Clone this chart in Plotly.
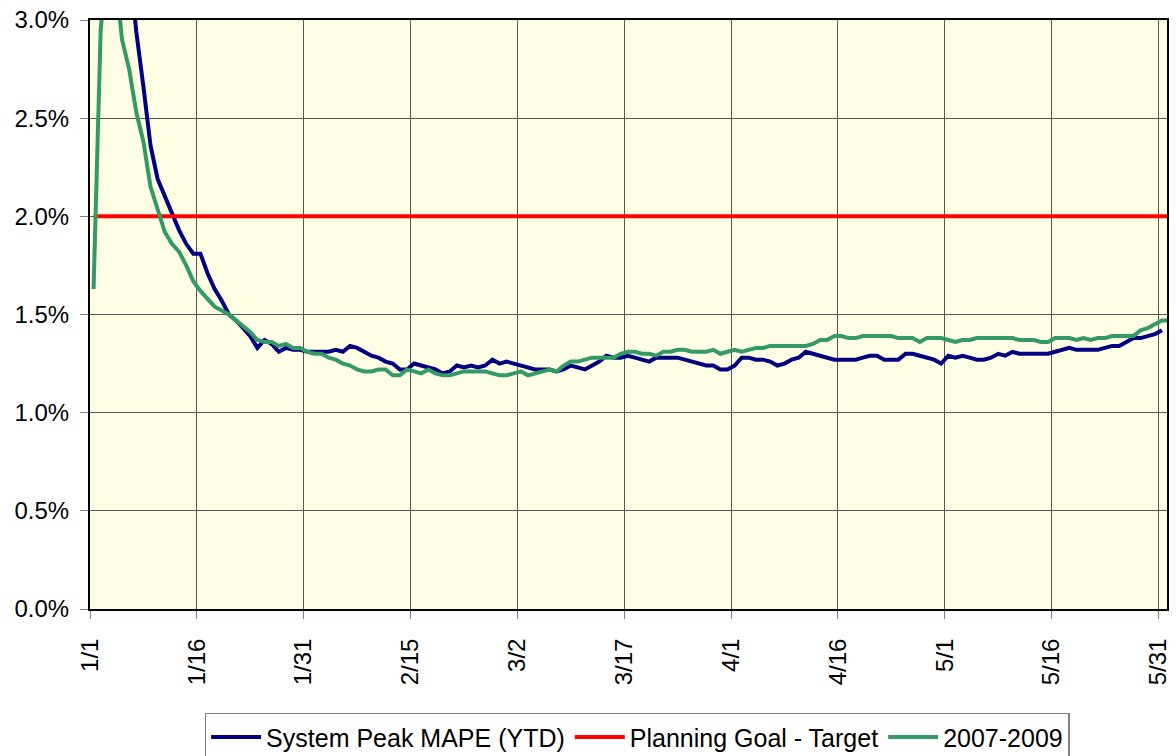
import pandas as pd
import plotly.graph_objects as go

# Daily readings, Jan 1 through Jun 1 (values in percent)
day_count = 152
days = pd.date_range("2010-01-01 12:00", periods=day_count, freq="D")

# System Peak MAPE, year to date (first days sit far above the 3% ceiling)
system_peak_mape = [None, None, None, None, None,
    3.30, 2.94, 2.66, 2.36, 2.19, 2.10, 2.01, 1.93, 1.86, 1.81,
    1.81, 1.71, 1.63, 1.57, 1.50, 1.47, 1.43, 1.39, 1.33, 1.37,
    1.35, 1.31, 1.33, 1.32, 1.32, 1.31, 1.31, 1.31, 1.31, 1.32,
    1.31, 1.34, 1.33, 1.31, 1.29, 1.28, 1.26, 1.25, 1.22, 1.22,
    1.25, 1.24, 1.23, 1.22, 1.20, 1.21, 1.24, 1.23, 1.24, 1.23,
    1.24, 1.27, 1.25, 1.26, 1.25, 1.24, 1.23, 1.22, 1.22, 1.22,
    1.21, 1.22, 1.24, 1.23, 1.22, 1.24, 1.26, 1.29, 1.28, 1.28,
    1.29, 1.28, 1.27, 1.26, 1.28, 1.28, 1.28, 1.28, 1.27, 1.26,
    1.25, 1.24, 1.24, 1.22, 1.22, 1.24, 1.28, 1.28, 1.27, 1.27,
    1.26, 1.24, 1.25, 1.27, 1.28, 1.31, 1.30, 1.29, 1.28, 1.27,
    1.27, 1.27, 1.27, 1.28, 1.29, 1.29, 1.27, 1.27, 1.27, 1.30,
    1.30, 1.29, 1.28, 1.27, 1.25, 1.29, 1.28, 1.29, 1.28, 1.27,
    1.27, 1.28, 1.30, 1.29, 1.31, 1.30, 1.30, 1.30, 1.30, 1.30,
    1.31, 1.32, 1.33, 1.32, 1.32, 1.32, 1.32, 1.33, 1.34, 1.34,
    1.36, 1.38, 1.38, 1.39, 1.40, 1.42,
    None]

# 2007-2009 reference curve
mape_2007_2009 = [
    1.63, 2.95, 3.35, 3.25, 2.90, 2.75, 2.53, 2.38, 2.15, 2.04,
    1.92, 1.86, 1.82, 1.75, 1.67, 1.62, 1.58, 1.54, 1.52, 1.50,
    1.47, 1.44, 1.41, 1.37, 1.36, 1.36, 1.34, 1.35, 1.33, 1.33,
    1.31, 1.30, 1.30, 1.28, 1.27, 1.25, 1.24, 1.22, 1.21, 1.21,
    1.22, 1.22, 1.19, 1.19, 1.22, 1.21, 1.20, 1.22, 1.20, 1.19,
    1.19, 1.20, 1.21, 1.21, 1.21, 1.21, 1.20, 1.19, 1.19, 1.20,
    1.21, 1.19, 1.20, 1.21, 1.22, 1.21, 1.24, 1.26, 1.26, 1.27,
    1.28, 1.28, 1.28, 1.28, 1.30, 1.31, 1.31, 1.30, 1.30, 1.29,
    1.31, 1.31, 1.32, 1.32, 1.31, 1.31, 1.31, 1.32, 1.30, 1.31,
    1.32, 1.31, 1.32, 1.33, 1.33, 1.34, 1.34, 1.34, 1.34, 1.34,
    1.34, 1.35, 1.37, 1.37, 1.39, 1.39, 1.38, 1.38, 1.39, 1.39,
    1.39, 1.39, 1.39, 1.38, 1.38, 1.38, 1.36, 1.38, 1.38, 1.38,
    1.37, 1.36, 1.37, 1.37, 1.38, 1.38, 1.38, 1.38, 1.38, 1.38,
    1.37, 1.37, 1.37, 1.36, 1.36, 1.38, 1.38, 1.38, 1.37, 1.38,
    1.37, 1.38, 1.38, 1.39, 1.39, 1.39, 1.39, 1.42, 1.43, 1.45,
    1.47, 1.47]

# Planning goal target
planning_goal = [2.0] * day_count

tick_dates = ["2010-01-01", "2010-01-16", "2010-01-31", "2010-02-15", "2010-03-02",
              "2010-03-17", "2010-04-01", "2010-04-16", "2010-05-01", "2010-05-16",
              "2010-05-31"]
tick_labels = ["1/1", "1/16", "1/31", "2/15", "3/2", "3/17", "4/1", "4/16",
               "5/1", "5/16", "5/31"]
y_ticks = [0.0, 0.5, 1.0, 1.5, 2.0, 2.5, 3.0]
y_tick_labels = ["0.0%", "0.5%", "1.0%", "1.5%", "2.0%", "2.5%", "3.0%"]

FONT = "Liberation Sans, Arial, sans-serif"

fig = go.Figure()
fig.add_trace(go.Scatter(x=days, y=system_peak_mape, mode="lines",
                         name="System Peak MAPE (YTD)",
                         line=dict(color="#000080", width=4)))
fig.add_trace(go.Scatter(x=days, y=planning_goal, mode="lines",
                         name="Planning Goal - Target",
                         line=dict(color="#FF0000", width=4)))
fig.add_trace(go.Scatter(x=days, y=mape_2007_2009, mode="lines",
                         name="2007-2009",
                         line=dict(color="#339966", width=4)))

fig.update_layout(
    width=1176, height=756,
    margin=dict(l=90, r=9, t=20, b=147, autoexpand=False),
    paper_bgcolor="white",
    plot_bgcolor="#FEFEE4",
    font=dict(family=FONT, size=24, color="black"),
    showlegend=True,
    legend=dict(
        orientation="h",
        x=0.508, xanchor="center",
        xref="paper",
        y=-0.176, yanchor="top",
        bordercolor="#808080", borderwidth=1.5,
        bgcolor="white",
        font=dict(family=FONT, size=25, color="black"),
        itemwidth=50,
        traceorder="normal",
    ),
)

fig.update_xaxes(
    type="date",
    range=["2010-01-01", "2010-06-01 05:00"],
    tickmode="array", tickvals=tick_dates, ticktext=tick_labels,
    tickangle=-90,
    ticks="outside", ticklen=8, tickcolor="#808080", tickwidth=1,
    showgrid=True, gridcolor="#555555", gridwidth=1,
    showline=True, linecolor="black", linewidth=2, mirror=True,
    tickfont=dict(family=FONT, size=24, color="black"),
    ticklabelstandoff=10,
    zeroline=False,
)
fig.update_yaxes(
    range=[0, 3],
    tickmode="array", tickvals=y_ticks, ticktext=y_tick_labels,
    ticks="outside", ticklen=8, tickcolor="#808080", tickwidth=1,
    showgrid=True, gridcolor="#555555", gridwidth=1,
    showline=True, linecolor="black", linewidth=2, mirror=True,
    tickfont=dict(family=FONT, size=24, color="black"),
    ticklabelstandoff=6,
    zeroline=False,
)

fig.write_html("out.html")
